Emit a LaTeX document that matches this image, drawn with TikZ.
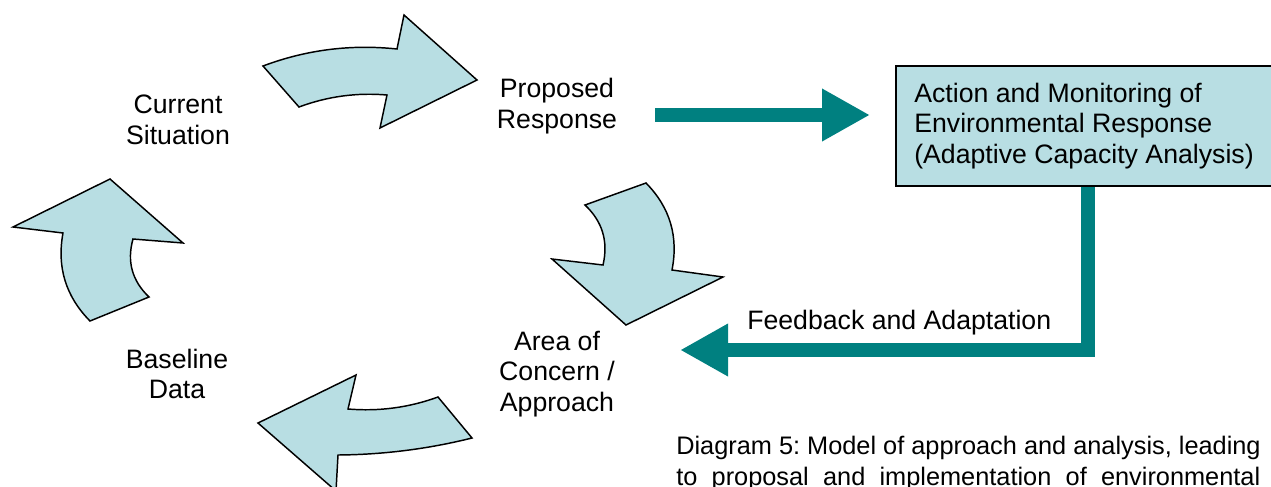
\documentclass[tikz,border=0pt]{standalone}
\usepackage{fontspec}
\setmainfont{Liberation Sans}
\usepackage{tikz}
\usetikzlibrary{arrows.meta}
\definecolor{paleblue}{RGB}{184,222,227}
\definecolor{flowteal}{RGB}{0,128,128}
\tikzstyle{Label}=[inner sep=0pt, align=center, text=black, font=\fontsize{20}{23}\selectfont]
\tikzstyle{Action}=[draw=black, line width=1.5pt, fill=paleblue, minimum width=282pt, minimum height=90pt, align=left, font=\fontsize{20}{23}\selectfont]
\tikzstyle{Caption}=[inner sep=0pt, align=left, text=black, font=\fontsize{19}{23}\selectfont]
\tikzstyle{cycle}=[draw=black, line width=1.1pt, fill=paleblue, line join=miter]
\tikzstyle{flow}=[draw=flowteal, line width=10.5pt, line join=miter, -{Triangle[length=36pt, width=37pt, flowteal]}]
\pgfdeclarelayer{nodelayer}
\pgfdeclarelayer{edgelayer}
\pgfsetlayers{edgelayer, nodelayer, main}
\frenchspacing

\begin{document}
\begin{tikzpicture}[x=0.75pt, y=-0.75pt]
	\useasboundingbox (0,0) rectangle (1271,486);
	\begin{pgfonlayer}{nodelayer}
		\node [style=Label] (current) at (178,120) {Current\\Situation};
		\node [style=Label] (proposed) at (557,106) {Proposed\\Response};
		\node [style=Label] (concern) at (557,374) {Area of\\Concern /\\Approach};
		\node [style=Label] (baseline) at (177,374) {Baseline\\Data};
		\node [style=Action] (action) at (1084,126) {Action and Monitoring of\\Environmental Response\\(Adaptive Capacity Analysis)};
		\node [style=Label, anchor=west] (feedback) at (747,323) {Feedback and Adaptation};
		\node [style=Caption, anchor=north west] (caption) at (676,436) {Diagram 5: Model of approach and analysis, leading\\\makebox[438pt][s]{to proposal and implementation of environmental}};

		% curved block arrows round the cycle
		\draw [style=cycle] (263,66) .. controls (306.4,49.7) and (351,44.1) .. (397,49) -- (404,15) -- (477,80)
			-- (380,128) -- (387,95) .. controls (356.8,92.4) and (327.4,96.4) .. (299,107) -- cycle;
		\draw [style=cycle] (585,205) -- (646,183) .. controls (670,207.4) and (678.6,236.4) .. (672,270) -- (723,277)
			-- (626,325) -- (552,259) -- (603,265) .. controls (608.5,241.5) and (602.5,221.5) .. cycle;
		\draw [style=cycle] (438,397) .. controls (408.9,407.6) and (378.9,411.6) .. (348,409) -- (356,375) -- (258,423)
			-- (336,491) -- (338,455) .. controls (383.4,454.6) and (428,449) .. (472,438) -- cycle;
		\draw [style=cycle] (13,227) -- (110,179) -- (183,243) -- (133,239) .. controls (126.7,261.5) and (132.1,280.9) .. (149,297)
			-- (90,321) .. controls (65.7,296.4) and (56.7,267) .. (63,233) -- cycle;
	\end{pgfonlayer}
	\begin{pgfonlayer}{edgelayer}
		\coordinate (outrow) at (0,115);
		\coordinate (fbcol) at (1087.5,0);
		\coordinate (fbrow) at (0,350);
		\draw [style=flow, shorten <=28.5pt, shorten >=18.75pt] (proposed.east |- outrow) -- (action.west |- outrow);
		\draw [style=flow, shorten >=48.75pt] (action.south -| fbcol) |- (concern.east |- fbrow);
	\end{pgfonlayer}
\end{tikzpicture}
\end{document}
